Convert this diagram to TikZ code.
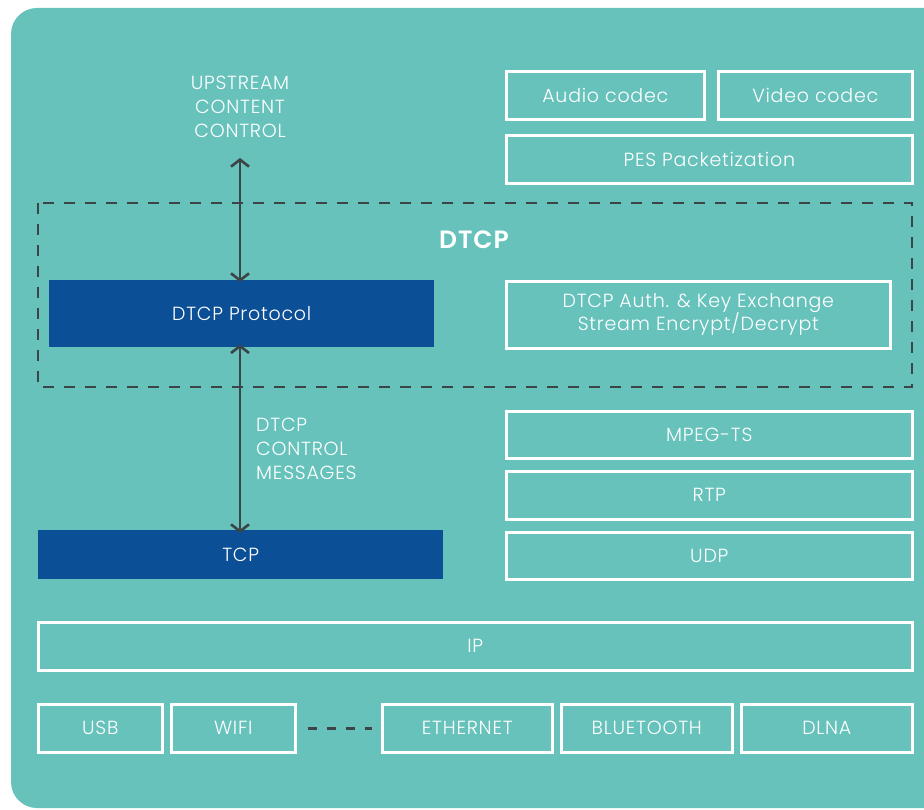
\documentclass[tikz,border=0pt]{standalone}
\usepackage{fontspec}
\IfFontExistsTF{Poppins Light}{\setmainfont{Poppins Light}[BoldFont=Poppins SemiBold,LetterSpace=4]}{\setmainfont{Poppins}}
\usetikzlibrary{arrows.meta}
\definecolor{bgteal}{HTML}{67C2BC}
\definecolor{dblue}{HTML}{0B4F96}
\definecolor{dgray}{HTML}{3D4448}
\tikzset{
  layer/.style={draw=white, line width=2.6pt, text=white, font=\fontsize{19}{23}\selectfont, inner sep=0pt},
  solidlayer/.style={fill=dblue, draw=none, text=white, font=\fontsize{19}{23}\selectfont, inner sep=0pt},
  lbl/.style={text=white, font=\fontsize{19}{24}\selectfont, inner sep=0pt},
  darrow/.style={draw=dgray, line width=2.6pt, {Straight Barb[length=7pt,width=18pt,line width=2.6pt]}-{Straight Barb[length=7pt,width=18pt,line width=2.6pt]}},
  dashline/.style={draw=dgray, line width=2.6pt, dash pattern=on 11pt off 10pt}
}
\begin{document}
\begin{tikzpicture}[x=1pt,y=-1pt]
\useasboundingbox (0,0) rectangle (924,810);
\begin{scope}
\clip (0,0) rectangle (924,810);
\fill[bgteal, rounded corners=26pt] (11,8) rectangle (960,808);
\end{scope}
% dashed DTCP region
\draw[dashline] (38,203) rectangle (912,387);
\node[text=white, font=\fontsize{25}{28}\selectfont\bfseries, inner sep=0pt] (dtcp) at (474,240) {DTCP};
% top right
\node[layer, minimum width=198pt, minimum height=48pt, anchor=north west] (audio) at (505,70) {Audio codec};
\node[layer, minimum width=194pt, minimum height=48pt, anchor=north west] (video) at (717,70) {Video codec};
\node[layer, minimum width=406pt, minimum height=48pt, anchor=north west] (pes) at (505,134) {PES Packetization};
% DTCP boxes
\node[solidlayer, minimum width=385pt, minimum height=67pt, anchor=north west] (proto) at (49,280) {DTCP Protocol};
\node[layer, minimum width=384pt, minimum height=67pt, anchor=north west, align=center, font=\fontsize{19}{23}\selectfont] (auth) at (505,280) {DTCP Auth. \& Key Exchange\\Stream Encrypt/Decrypt};
% transport stack
\node[layer, minimum width=406pt, minimum height=47pt, anchor=north west] (mpeg) at (505,410) {MPEG-TS};
\node[layer, minimum width=406pt, minimum height=48pt, anchor=north west] (rtp) at (505,470) {RTP};
\node[layer, minimum width=406pt, minimum height=47pt, anchor=north west] (udp) at (505,531) {UDP};
\node[solidlayer, minimum width=405pt, minimum height=49pt, anchor=north west] (tcp) at (38,530) {TCP};
% IP
\node[layer, minimum width=874pt, minimum height=48pt, anchor=north west] (ip) at (37,621) {IP};
% link layers
\node[layer, minimum width=124pt, minimum height=48pt, anchor=north west] (usb) at (37,703) {USB};
\node[layer, minimum width=124pt, minimum height=48pt, anchor=north west] (wifi) at (170,703) {WIFI};
\node[layer, minimum width=170pt, minimum height=48pt, anchor=north west] (eth) at (381,703) {ETHERNET};
\node[layer, minimum width=171pt, minimum height=48pt, anchor=north west] (bt) at (560,703) {BLUETOOTH};
\node[layer, minimum width=171pt, minimum height=48pt, anchor=north west] (dlna) at (740,703) {DLNA};
\draw[dashline, dash pattern=on 9pt off 10pt, shorten <=11pt, shorten >=9pt] (wifi.east) -- (eth.west);
% labels and arrows
\node[lbl, align=center, anchor=north] (up) at (240,76) {UPSTREAM\\CONTENT\\CONTROL};
\coordinate (upend) at (240,158);
\draw[darrow] (upend) -- ([yshift=-2pt]proto.north -| upend);
\node[lbl, align=left, anchor=north west] (msg) at (256,418) {DTCP\\CONTROL\\MESSAGES};
\draw[darrow] ([yshift=3pt]proto.south -| upend) -- ([yshift=-3pt]tcp.north -| upend);
\end{tikzpicture}
\end{document}
